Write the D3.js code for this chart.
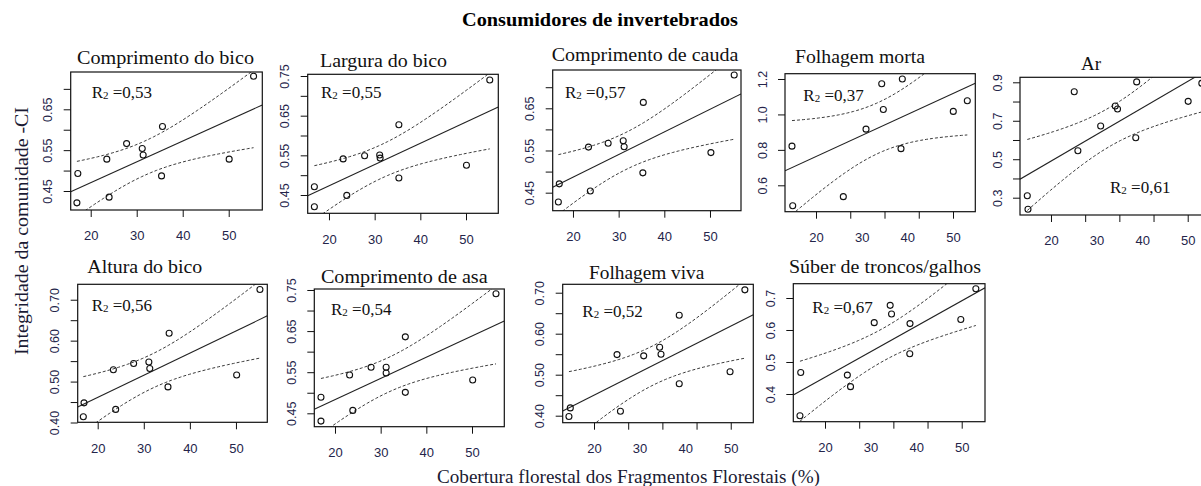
<!DOCTYPE html>
<html><head><meta charset="utf-8">
<script src="https://cdn.jsdelivr.net/npm/d3@7"></script>
<style>body{margin:0;background:#fff}</style>
</head><body><svg id="c" width="1201" height="486"></svg>
<script>
// ---------------- DATA ----------------
const chartTitle = "Consumidores de invertebrados";
const yAxisTitle = "Integridade da comunidade -CI";
const xAxisTitle = "Cobertura florestal dos Fragmentos Florestais (%)";
const panelTitles = ["Comprimento do bico","Largura do bico","Comprimento de cauda","Folhagem morta","Ar",
  "Altura do bico","Comprimento de asa","Folhagem viva","Súber de troncos/galhos"];
const r2Values = ["0,53","0,55","0,57","0,37","0,61","0,56","0,54","0,52","0,67"];

const xCompBico = [17.2, 17.0, 23.5, 24.0, 27.8, 31.2, 31.4, 35.6, 35.4, 50.1, 55.4];
const yCompBico = [0.493, 0.421, 0.528, 0.435, 0.566, 0.554, 0.538, 0.608, 0.487, 0.528, 0.731];
const xLargBico = [16.8, 16.8, 23.1, 23.9, 27.8, 31.1, 31.2, 35.3, 35.3, 50.1, 55.2];
const yLargBico = [0.471, 0.4205, 0.541, 0.449, 0.549, 0.551, 0.543, 0.627, 0.493, 0.525, 0.740];
const xCompCauda = [17.0, 16.8, 23.4, 23.8, 27.7, 31.0, 31.2, 35.4, 35.3, 50.2, 55.3];
const yCompCauda = [0.471, 0.428, 0.558, 0.454, 0.567, 0.573, 0.559, 0.664, 0.497, 0.545, 0.729];
const xFolMorta = [14.74, 14.9, 25.98, 30.95, 34.39, 34.74, 38.9, 38.61, 50.06, 53.13];
const yFolMorta = [0.821, 0.485, 0.536, 0.917, 1.173, 1.028, 1.200, 0.807, 1.017, 1.077];
const xAr = [14.8, 14.95, 25.1, 25.9, 30.9, 34.1, 34.6, 38.8, 38.6, 50.1, 53.1];
const yAr = [0.310, 0.240, 0.851, 0.544, 0.673, 0.777, 0.761, 0.902, 0.612, 0.801, 0.895];
const xAltBico = [17.03, 16.88, 23.4, 23.9, 27.8, 31.1, 31.3, 35.5, 35.25, 50.15, 55.2];
const yAltBico = [0.448, 0.414, 0.529, 0.432, 0.544, 0.548, 0.532, 0.618, 0.487, 0.516, 0.725];
const xCompAsa = [16.93, 16.93, 23.2, 23.9, 27.9, 31.2, 31.2, 35.4, 35.4, 50.15, 55.25];
const yCompAsa = [0.489, 0.431, 0.543, 0.457, 0.562, 0.562, 0.548, 0.636, 0.501, 0.531, 0.741];
const xFolViva = [14.8, 14.5, 25.05, 25.8, 30.9, 34.4, 34.7, 38.7, 38.7, 49.85, 53.1];
const yFolViva = [0.419, 0.398, 0.549, 0.411, 0.546, 0.567, 0.550, 0.645, 0.478, 0.507, 0.707];
const xSuber = [14.67, 14.5, 24.9, 25.6, 30.8, 34.3, 34.6, 38.65, 38.6, 49.8, 53.1];
const ySuber = [0.467, 0.332, 0.459, 0.423, 0.623, 0.677, 0.650, 0.620, 0.526, 0.633, 0.729];

// fitted regression lines
const fitIntercepts = [0.3686, 0.3656, 0.3793, 0.5254, 0.2136, 0.3533, 0.3798, 0.3379, 0.2931];
const fitSlopes = [0.005095, 0.00537, 0.005367, 0.011855, 0.01382, 0.00541, 0.005166, 0.005606, 0.007965];

// axis ranges (values at the plot-box edges)
const xDomains = [[15.65,57.3],[15.34,57.07],[15.56,56.79],[13.21,54.88],[13.20,54.89],
  [15.66,56.8],[15.47,57.07],[13.13,54.95],[13.04,55.11]];
const yDomains = [[0.4035,0.7413],[0.4039,0.7543],[0.4073,0.7408],[0.451,1.2299],[0.210,0.926],
  [0.4005,0.7377],[0.4174,0.7524],[0.3829,0.7205],[0.3134,0.7447]];

// tick values and labels
const yTicks = [
  [0.45,0.50,0.55,0.60,0.65,0.70],
  [0.45,0.50,0.55,0.60,0.65,0.70,0.75],
  [0.45,0.50,0.55,0.60,0.65,0.70],
  [0.6,0.8,1.0,1.2],
  [0.3,0.4,0.5,0.6,0.7,0.8,0.9],
  [0.40,0.45,0.50,0.55,0.60,0.65,0.70],
  [0.45,0.50,0.55,0.60,0.65,0.70,0.75],
  [0.40,0.45,0.50,0.55,0.60,0.65,0.70],
  [0.4,0.5,0.6,0.7]];
const yTickLabels = [
  ["0.45","","0.55","","0.65",""],
  ["0.45","","0.55","","0.65","","0.75"],
  ["0.45","","0.55","","0.65",""],
  ["0.6","0.8","1.0","1.2"],
  ["0.3","","0.5","","0.7","","0.9"],
  ["0.40","","0.50","","0.60","","0.70"],
  ["0.45","","0.55","","0.65","","0.75"],
  ["0.40","","0.50","","0.60","","0.70"],
  ["0.4","0.5","0.6","0.7"]];
const xTickLabels = [20, 30, 40, 50];
const xTickMarksA = [20, 30, 40, 50];
const xTickMarksB = [20, 27.5, 35, 42.5, 50];
const tQuantile975 = {8: 2.306, 9: 2.262};

// ---------------- LAYOUT ----------------
const xData = [xCompBico,xLargBico,xCompCauda,xFolMorta,xAr,xAltBico,xCompAsa,xFolViva,xSuber];
const yData = [yCompBico,yLargBico,yCompCauda,yFolMorta,yAr,yAltBico,yCompAsa,yFolViva,ySuber];
const tickMarkSet = [xTickMarksA,xTickMarksA,xTickMarksA,xTickMarksB,xTickMarksB,xTickMarksA,xTickMarksA,xTickMarksB,xTickMarksB];
const boxes = [[70.7,72,262.3,210],[307.7,74.3,498.3,213.3],[552.7,70,741,210.7],[785,73.7,975.3,211.7],
  [1020,77.3,1210,215],[77.7,284.3,267.3,422.3],[314.3,289,504.3,426.7],[562.7,284.3,753.3,422.7],[793.3,283.7,985,421.7]];
const titlePos = [[165.5,64.3,177],[383.5,66.5,127],[645,60.7,186.6],[860,62.7,130],[1091,70,20],
  [144.8,272.7,115],[404.3,283.3,166.7],[646.7,279.3,115.3],[885,273.3,192]];
const r2Pos = [[91.7,98.3],[321,98.3],[565,98.3],[803.3,101],[1110,192.7],[91.7,311],[331,315.3],[582.3,316.7],[812.3,313.3]];

const SERIF = "'Liberation Serif','Times New Roman',serif";
const SANS = "'Liberation Sans',Arial,sans-serif";
const tickColor = "#24244a";

const svg = d3.select("#c");
svg.append("rect").attr("width",1201).attr("height",486).attr("fill","#fff");

svg.append("text").attr("x",600).attr("y",26).attr("text-anchor","middle")
  .attr("font-family",SERIF).attr("font-weight","bold").attr("font-size",19.5)
  .attr("textLength",276).attr("lengthAdjust","spacingAndGlyphs").attr("fill","#000").text(chartTitle);

svg.append("text").attr("transform","translate(28,231) rotate(-90)").attr("text-anchor","middle")
  .attr("font-family",SERIF).attr("font-size",19).attr("textLength",248).attr("lengthAdjust","spacingAndGlyphs")
  .attr("fill","#1a1a33").text(yAxisTitle);

svg.append("text").attr("x",628.5).attr("y",483).attr("text-anchor","middle")
  .attr("font-family",SERIF).attr("font-size",19).attr("textLength",383).attr("lengthAdjust","spacingAndGlyphs")
  .attr("fill","#1a1a33").text(xAxisTitle);

const defs = svg.append("defs");

panelTitles.forEach((title, i) => {
  const b = boxes[i];
  const xs = d3.scaleLinear().domain(xDomains[i]).range([b[0], b[2]]);
  const ys = d3.scaleLinear().domain(yDomains[i]).range([b[3], b[1]]);
  const g = svg.append("g");

  defs.append("clipPath").attr("id","clip"+i).append("rect")
    .attr("x",b[0]).attr("y",b[1]).attr("width",b[2]-b[0]).attr("height",b[3]-b[1]);
  const inner = g.append("g").attr("clip-path","url(#clip"+i+")");

  const xv = xData[i], yv = yData[i];
  const n = xv.length;
  const a = fitIntercepts[i], s1 = fitSlopes[i];
  const mx = d3.mean(xv);
  const sxx = d3.sum(xv, x => (x-mx)*(x-mx));
  const ssr = d3.sum(xv, (x,k) => Math.pow(yv[k]-(a+s1*x),2));
  const se = Math.sqrt(ssr/(n-2));
  const tq = tQuantile975[n-2];
  const [lo, hi] = d3.extent(xv);
  const grid = d3.range(61).map(k => lo + (hi-lo)*k/60);
  const half = x => tq*se*Math.sqrt(1/n + (x-mx)*(x-mx)/sxx);
  const line = d3.line().x(d => xs(d[0])).y(d => ys(d[1]));

  // confidence band
  [1,-1].forEach(sign => {
    inner.append("path").datum(grid.map(x => [x, a + s1*x + sign*half(x)]))
      .attr("d", line).attr("fill","none").attr("stroke","#3a3a3a")
      .attr("stroke-width",1).attr("stroke-dasharray","3,2");
  });
  // regression line
  inner.append("path").datum(xDomains[i].map(x => [x, a + s1*x]))
    .attr("d", line).attr("fill","none").attr("stroke","#222").attr("stroke-width",1.1);

  // points
  inner.selectAll("circle").data(xv.map((x,k)=>[x,yv[k]])).join("circle")
    .attr("cx", d => xs(d[0])).attr("cy", d => ys(d[1])).attr("r",3)
    .attr("fill","none").attr("stroke","#111").attr("stroke-width",1.1);

  // box
  g.append("rect").attr("x",b[0]).attr("y",b[1]).attr("width",b[2]-b[0]).attr("height",b[3]-b[1])
    .attr("fill","none").attr("stroke","#111").attr("stroke-width",1.2);

  // y axis
  const yAx = g.append("g").attr("transform",`translate(${b[0]},0)`)
    .call(d3.axisLeft(ys).tickValues(yTicks[i]).tickSize(7)
      .tickFormat(d => yTickLabels[i][yTicks[i].indexOf(d)]));
  yAx.select(".domain").remove();
  yAx.selectAll("line").attr("stroke","#111");
  yAx.selectAll("text").attr("transform","rotate(-90)").attr("x",0).attr("y",-18.5).attr("dy",null)
    .attr("text-anchor","middle").attr("font-family",SANS).attr("font-size",12.5).attr("fill",tickColor);

  // x axis tick marks
  const xAx = g.append("g").attr("transform",`translate(0,${b[3]})`)
    .call(d3.axisBottom(xs).tickValues(tickMarkSet[i]).tickSize(7).tickFormat(""));
  xAx.select(".domain").remove();
  xAx.selectAll("line").attr("stroke","#111");
  // x axis labels
  const xLab = g.append("g").attr("transform",`translate(0,${b[3]})`)
    .call(d3.axisBottom(xs).tickValues(xTickLabels).tickSize(0).tickPadding(21).tickFormat(d3.format("d")));
  xLab.select(".domain").remove();
  xLab.selectAll("line").remove();
  xLab.selectAll("text").attr("font-family",SANS).attr("font-size",13).attr("fill",tickColor);

  // panel title
  const tp = titlePos[i];
  svg.append("text").attr("x",tp[0]).attr("y",tp[1]).attr("text-anchor","middle")
    .attr("font-family",SERIF).attr("font-size",19).attr("textLength",tp[2]).attr("lengthAdjust","spacingAndGlyphs")
    .attr("fill","#111").text(title);

  // R2 label
  const rp = r2Pos[i];
  const rt = svg.append("text").attr("x",rp[0]).attr("y",rp[1]).attr("font-family",SERIF)
    .attr("font-size",17).attr("fill","#111");
  rt.append("tspan").text("R");
  rt.append("tspan").attr("font-size",11).attr("dy",1).text("2");
  rt.append("tspan").attr("dy",-1).text(" =" + r2Values[i]);
});
</script></body></html>
